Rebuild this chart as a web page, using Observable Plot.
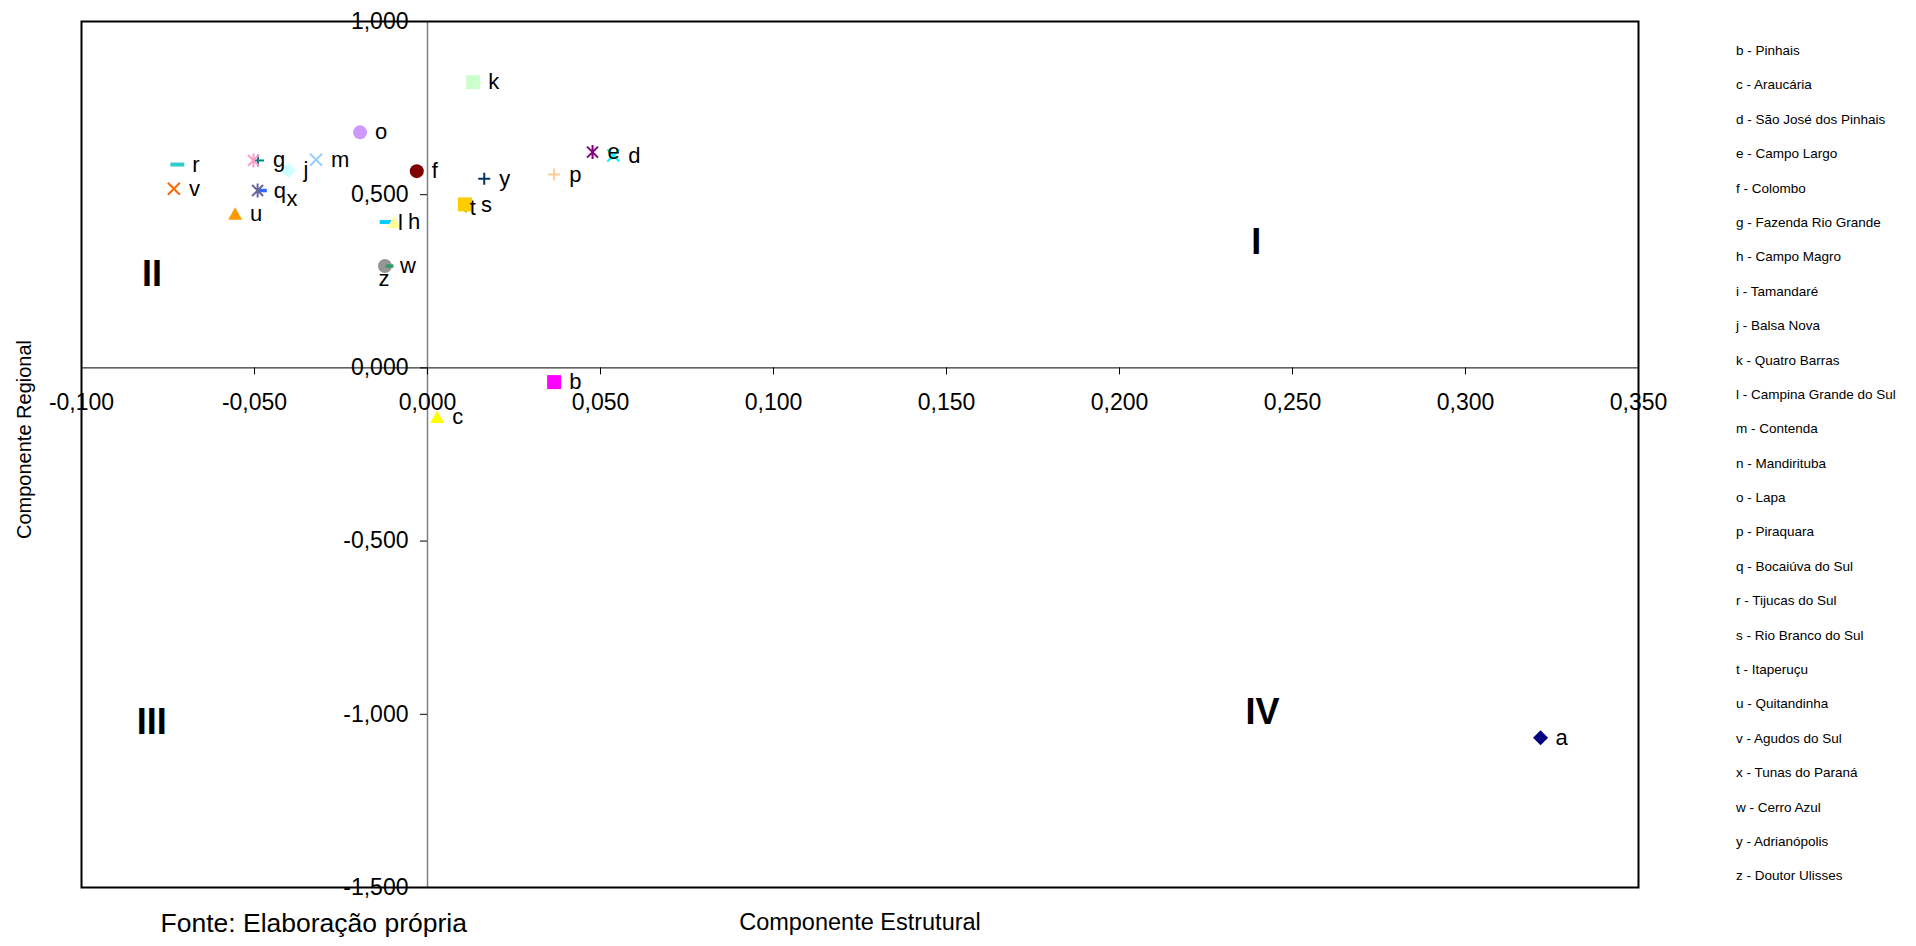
<!DOCTYPE html>
<html>
<head>
<meta charset="utf-8">
<script src="https://cdn.jsdelivr.net/npm/d3@7"></script>
<script src="https://cdn.jsdelivr.net/npm/@observablehq/plot@0.6"></script>
<style>
  html, body { margin: 0; padding: 0; background: #fff; }
  #chart { position: relative; width: 1916px; height: 946px; font-family: "Liberation Sans", Arial, sans-serif; }
  #legend { position: absolute; left: 1736px; top: 34px; font-size: 13.5px; color: #000; }
  #legend div { height: 34.4px; line-height: 34.4px; white-space: nowrap; }
</style>
</head>
<body>
<div id="chart"><div id="legend"></div></div>
<script>
// Municipalities (series codes, in plotting order)
const codes = ["a","b","c","d","e","f","g","h","i","j","k","l","m","n","o","p","q","r","s","t","u","v","x","w","y","z"];
// Componente Estrutural (horizontal)
const estrutural = [0.3217, 0.0366, 0.0028, 0.0537, 0.0477, -0.0031, -0.0490, -0.0100, -0.0118, -0.0402, 0.0132, -0.0097, -0.0322,
  -0.0503, -0.0195, 0.0366, -0.0476, -0.0723, 0.0111, 0.0108, -0.0556, -0.0733, -0.0491, -0.0123, 0.0164, -0.0110];
// Componente Regional (vertical)
const regional = [-1.068, -0.041, -0.142, 0.613, 0.623, 0.568, 0.599, 0.421, 0.421, 0.570, 0.825, 0.421, 0.601,
  0.599, 0.680, 0.558, 0.512, 0.587, 0.469, 0.472, 0.445, 0.517, 0.512, 0.294, 0.546, 0.294];
// Marker shape and colour of each series
const markers = ["diamond","square","triangle","times","asterisk","circle","plus","shortDash","longDash",
  "diamond","square","triangle","times","asterisk","circle","plus","shortDash","longDash",
  "diamond","square","triangle","times","asterisk","circle","plus","shortDash"];
const colors = ["#000080","#FF00FF","#FFFF00","#00FFFF","#800080","#800000","#008080","#0000FF","#00CCFF",
  "#CCFFFF","#CCFFCC","#FFFF99","#99CCFF","#FF99CC","#CC99FF","#FFCC99","#3366FF","#33CCCC",
  "#99CC00","#FFCC00","#FF9900","#FF6600","#666699","#969696","#003366","#339966"];
// Series whose point label is not shown
const unlabeled = ["i", "n"];

// Legend entries
const legendCodes = ["b","c","d","e","f","g","h","i","j","k","l","m","n","o","p","q","r","s","t","u","v","x","w","y","z"];
const legendNames = ["Pinhais","Araucária","São José dos Pinhais","Campo Largo","Colombo","Fazenda Rio Grande","Campo Magro",
  "Tamandaré","Balsa Nova","Quatro Barras","Campina Grande do Sul","Contenda","Mandirituba","Lapa","Piraquara",
  "Bocaiúva do Sul","Tijucas do Sul","Rio Branco do Sul","Itaperuçu","Quitandinha","Agudos do Sul","Tunas do Paraná",
  "Cerro Azul","Adrianópolis","Doutor Ulisses"];

// Axis ticks
const xTicks = [-0.1, -0.05, 0, 0.05, 0.1, 0.15, 0.2, 0.25, 0.3, 0.35];
const yTicks = [1, 0.5, 0, -0.5, -1, -1.5];

// Quadrant labels
const quadLabels = ["I", "II", "III", "IV"];
const quadX = [0.2395, -0.0796, -0.0797, 0.2413];
const quadY = [0.3635, 0.271, -1.0237, -0.996];

const points = codes.map((code, i) => ({
  code, x: estrutural[i], y: regional[i], marker: markers[i], color: colors[i]
}));
const quadrants = quadLabels.map((label, i) => ({label, x: quadX[i], y: quadY[i]}));

// Marker glyphs drawn at a fixed pixel size
const symbolDefs = {
  diamond: {draw(c) { c.moveTo(0, -7.5); c.lineTo(7.5, 0); c.lineTo(0, 7.5); c.lineTo(-7.5, 0); c.closePath(); }},
  square: {draw(c) { c.rect(-7, -7, 14, 14); }},
  triangle: {draw(c) { c.moveTo(0, -6.5); c.lineTo(7, 6); c.lineTo(-7, 6); c.closePath(); }},
  circle: {draw(c) { c.moveTo(7, 0); c.arc(0, 0, 7, 0, 2 * Math.PI); c.closePath(); }},
  times: {draw(c) { c.moveTo(-6, -6); c.lineTo(6, 6); c.moveTo(-6, 6); c.lineTo(6, -6); }},
  plus: {draw(c) { c.moveTo(-6, 0); c.lineTo(6, 0); c.moveTo(0, -6); c.lineTo(0, 6); }},
  asterisk: {draw(c) { c.moveTo(-5.5, -5.5); c.lineTo(5.5, 5.5); c.moveTo(-5.5, 5.5); c.lineTo(5.5, -5.5); c.moveTo(0, -7); c.lineTo(0, 7); }},
  shortDash: {draw(c) { c.rect(-4, -1.75, 8, 3.5); }},
  longDash: {draw(c) { c.rect(-7, -2, 14, 4); }}
};
const strokedMarkers = new Set(["times", "plus", "asterisk"]);

// Label offsets for crowded points
const labelShift = {l: [4, 1], q: [11, 0], t: [5, 4], x: [29, 8], z: [-11, 12.5]};
const fmt = v => v.toFixed(3).replace(".", ",");

const plot = Plot.plot({
  width: 1916,
  height: 946,
  marginLeft: 81,
  marginRight: 278,
  marginTop: 21,
  marginBottom: 59,
  style: {fontFamily: "'Liberation Sans', Arial, sans-serif", background: "transparent", color: "#000"},
  x: {domain: [-0.1, 0.35], axis: null},
  y: {domain: [-1.5, 1.0], axis: null},
  color: {type: "identity"},
  marks: [
    // axes crossing at the origin
    Plot.ruleY([0], {stroke: "#000", strokeWidth: 1}),
    Plot.ruleX([0], {stroke: "#808080", strokeWidth: 1.5}),
    Plot.ruleX(xTicks, {x: d => d, y1: 0, y2: 0, insetBottom: -7, stroke: "#000", strokeWidth: 1}),
    Plot.ruleY(yTicks, {y: d => d, x1: 0, x2: 0, insetLeft: -7, stroke: "#000", strokeWidth: 1}),
    Plot.frame({stroke: "#000", strokeWidth: 2}),
    Plot.text(xTicks, {x: d => d, y: 0, dy: 34.6, text: fmt, fontSize: 23, fill: "#000"}),
    Plot.text(yTicks, {x: 0, y: d => d, dx: -19, text: fmt, textAnchor: "end", fontSize: 23, fill: "#000"}),
    // quadrant numerals
    Plot.text(quadrants, {x: "x", y: "y", text: "label", fontSize: 36, fontWeight: "bold", fill: "#000"}),
    // municipalities
    Plot.dot(points, {
      x: "x", y: "y",
      symbol: d => symbolDefs[d.marker],
      fill: d => strokedMarkers.has(d.marker) ? "none" : d.color,
      stroke: d => strokedMarkers.has(d.marker) ? d.color : "none",
      strokeWidth: 2
    }),
    Plot.text(points.filter(d => !unlabeled.includes(d.code)), {
      x: "x", y: "y", text: "code", textAnchor: "start",
      fontSize: 22, fill: "#000",
      render(index, scales, values, dims, context, next) {
        const g = next(index, scales, values, dims, context);
        const data = this.data;
        d3.select(g).selectAll("text").each(function(_, j) {
          const d = data[index[j]];
          const s = labelShift[d.code] || [15, 0];
          const t = this.getAttribute("transform") || "";
          this.setAttribute("transform", `${t} translate(${s[0]},${s[1]})`);
        });
        return g;
      }
    }),
    // axis titles and source
    Plot.text(["Componente Estrutural"], {frameAnchor: "bottom", dy: 42, textAnchor: "middle", fontSize: 23.5, fill: "#000"}),
    Plot.text(["Fonte: Elaboração própria"], {frameAnchor: "bottom-left", dx: 79, dy: 44, textAnchor: "start", fontSize: 26.5, fill: "#000"}),
    Plot.text(["Componente Regional"], {frameAnchor: "left", rotate: -90, dx: -57, dy: -15, textAnchor: "middle", fontSize: 20, fill: "#000"})
  ]
});

document.getElementById("chart").prepend(plot);

const legend = document.getElementById("legend");
legendCodes.forEach((c, i) => {
  const row = document.createElement("div");
  row.textContent = `${c} - ${legendNames[i]}`;
  legend.appendChild(row);
});
</script>
</body>
</html>
